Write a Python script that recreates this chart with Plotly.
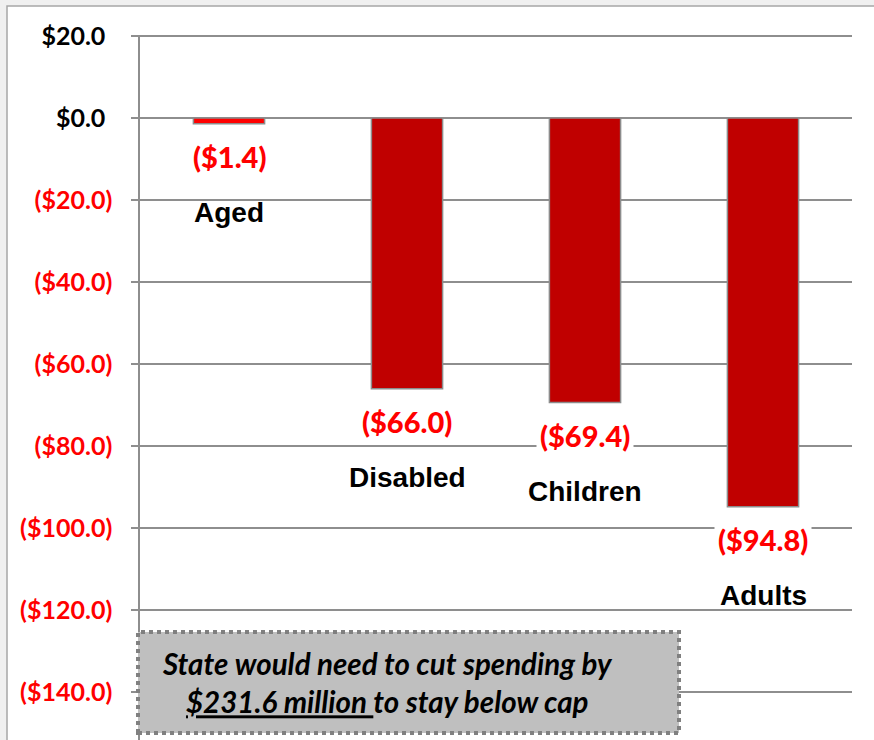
import plotly.graph_objects as go

# Projected spending change by eligibility group ($ millions)
categories = ["Aged", "Disabled", "Children", "Adults"]
values = [-1.4, -66.0, -69.4, -94.8]
value_labels = ["($1.4)", "($66.0)", "($69.4)", "($94.8)"]
bar_colors = ["#ff0000", "#c00000", "#c00000", "#c00000"]

tick_values = [20, 0, -20, -40, -60, -80, -100, -120, -140]
tick_labels = ["$20.0", "$0.0", "($20.0)", "($40.0)", "($60.0)", "($80.0)",
               "($100.0)", "($120.0)", "($140.0)"]

note_line1 = "State would need to cut spending by"
note_amount = "$231.6 million "
note_line2 = "to stay below cap"

W, H = 874, 740
L, R, T, B = 140, 22, 35, 0
PW, PH = W - L - R, H - T - B


def px_x(p):
    return (p - L) / PW


def px_y(p):
    return (H - B - p) / PH


def fmt_tick(v, s):
    if v < 0:
        return f"<span style='color:#ff0000'>{s}</span>"
    # pad positive labels so digits line up with the parenthesised ones
    return f"{s}<span style='color:rgba(0,0,0,0)'>)</span>"


fig = go.Figure()
fig.add_trace(go.Bar(
    x=categories,
    y=values,
    width=0.4,
    marker=dict(color=bar_colors, line=dict(color="#8c8c8c", width=1.5)),
    hoverinfo="skip",
))

annotations = []
for cat, val, lab in zip(categories, values, value_labels):
    annotations.append(dict(
        x=cat, y=val, xref="x", yref="y", text=lab, showarrow=False,
        yanchor="middle", yshift=-33, bgcolor="white", borderpad=3,
        font=dict(family="Lato", size=29, color="#ff0000", weight=900),
    ))
    annotations.append(dict(
        x=cat, y=val, xref="x", yref="y", text=f"<b>{cat}</b>", showarrow=False,
        yanchor="middle", yshift=-89,
        font=dict(family="Liberation Sans, Arial", size=28, color="black"),
    ))

annotations.append(dict(
    x=px_x(387), y=px_y(682), xref="paper", yref="paper", showarrow=False,
    xanchor="center", yanchor="middle", align="center",
    text=f"<b><i>{note_line1}<br><u>{note_amount}</u>{note_line2}</i></b>",
    font=dict(family="Lato", size=29.5, color="black"),
))

shapes = [
    # white chart panel with thin frame
    dict(type="rect", xref="paper", yref="paper", layer="below",
         x0=px_x(7), x1=px_x(W + 10), y0=px_y(H + 10), y1=px_y(6),
         fillcolor="white", line=dict(color="#a6a6a6", width=1.5)),
    # grey note box with dotted border
    dict(type="rect", xref="paper", yref="paper", layer="above",
         x0=px_x(138), x1=px_x(679), y0=px_y(733), y1=px_y(632),
         fillcolor="#bfbfbf", line=dict(color="#808080", width=4, dash="dot")),
]

fig.update_layout(
    width=W, height=H,
    margin=dict(l=L, r=R, t=T, b=B, pad=0),
    paper_bgcolor="#f0f0f0",
    plot_bgcolor="rgba(0,0,0,0)",
    showlegend=False,
    annotations=annotations,
    shapes=shapes,
    xaxis=dict(range=[-0.5, 3.5], showticklabels=False, showgrid=False,
               zeroline=False, showline=False, ticks="", fixedrange=True),
    yaxis=dict(
        range=[-151.7, 20.25],
        tickvals=tick_values,
        ticktext=[fmt_tick(v, s) for v, s in zip(tick_values, tick_labels)],
        tickfont=dict(family="Lato", size=25, color="black", weight="bold"),
        showgrid=True, gridcolor="#8e8e8e", gridwidth=1.5,
        zeroline=False,
        showline=True, linecolor="#8e8e8e", linewidth=1.5,
        ticks="outside", ticklen=7, tickcolor="#8e8e8e", tickwidth=1.5,
        ticklabelstandoff=14,
        fixedrange=True,
    ),
)

fig.write_html("out.html")
